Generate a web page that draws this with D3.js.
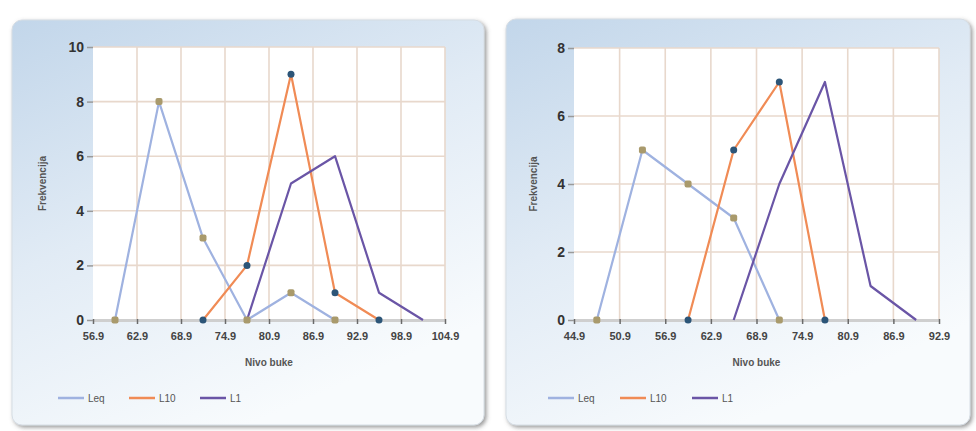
<!DOCTYPE html>
<html>
<head>
<meta charset="utf-8">
<script src="https://cdn.jsdelivr.net/npm/d3@7"></script>
<style>
  body { margin: 0; background: #fff; }
  text { font-family: "Liberation Sans", Arial, sans-serif; fill: #3a3a3a; }
</style>
</head>
<body>
<div id="chart"></div>
<script>
// series names (legend)
var seriesNames = ["Leq", "L10", "L1"];

// left chart: class midpoints, tick labels and frequencies
var leftTicks = [56.9, 62.9, 68.9, 74.9, 80.9, 86.9, 92.9, 98.9, 104.9];
var leftYTicks = [0, 2, 4, 6, 8, 10];
var leftLeqX = [59.9, 65.9, 71.9, 77.9, 83.9, 89.9];
var leftLeq  = [0, 8, 3, 0, 1, 0];
var leftL10X = [71.9, 77.9, 83.9, 89.9, 95.9];
var leftL10  = [0, 2, 9, 1, 0];
var leftL1X  = [77.9, 83.9, 89.9, 95.9, 101.9];
var leftL1   = [0, 5, 6, 1, 0];

// right chart
var rightTicks = [44.9, 50.9, 56.9, 62.9, 68.9, 74.9, 80.9, 86.9, 92.9];
var rightYTicks = [0, 2, 4, 6, 8];
var rightLeqX = [47.9, 53.9, 59.9, 65.9, 71.9];
var rightLeq  = [0, 5, 4, 3, 0];
var rightL10X = [59.9, 65.9, 71.9, 77.9];
var rightL10  = [0, 5, 7, 0];
var rightL1X  = [65.9, 71.9, 77.9, 83.9, 89.9];
var rightL1   = [0, 4, 7, 1, 0];

var colors = ["#9fb2e0", "#f08b55", "#6a55a6"];

var svg = d3.select("#chart").append("svg")
    .attr("width", 976)
    .attr("height", 431);

var defs = svg.append("defs");

// card background gradient (light blue -> white)
var grad = defs.append("linearGradient")
    .attr("id", "cardGrad")
    .attr("x1", "0%").attr("y1", "0%")
    .attr("x2", "50%").attr("y2", "100%");
grad.append("stop").attr("offset", "0%").attr("stop-color", "#c2d6ea");
grad.append("stop").attr("offset", "50%").attr("stop-color", "#e1ebf5");
grad.append("stop").attr("offset", "100%").attr("stop-color", "#f8fbfd");

var shadow = defs.append("filter").attr("id", "shadow")
    .attr("x", "-5%").attr("y", "-5%").attr("width", "115%").attr("height", "115%");
shadow.append("feDropShadow")
    .attr("dx", 2).attr("dy", 2)
    .attr("stdDeviation", 2)
    .attr("flood-color", "#606060")
    .attr("flood-opacity", 0.65);

function toPoints(xs, ys) {
  return xs.map(function(x, i) { return {x: x, y: ys[i]}; });
}

function drawPanel(cfg) {
  var g = svg.append("g");

  // card
  g.append("rect")
      .attr("x", cfg.card[0]).attr("y", cfg.card[1])
      .attr("width", cfg.card[2]).attr("height", cfg.card[3])
      .attr("rx", 10).attr("ry", 10)
      .style("fill", "url(#cardGrad)")
      .style("stroke", "#d6dde4")
      .style("stroke-width", 1)
      .attr("filter", "url(#shadow)");

  var x = d3.scaleLinear()
      .domain([cfg.ticks[0], cfg.ticks[cfg.ticks.length - 1]])
      .range([cfg.plot[0], cfg.plot[1]]);
  var y = d3.scaleLinear()
      .domain([0, d3.max(cfg.yTicks)])
      .range([cfg.plot[3], cfg.plot[2]]);

  // plot area
  g.append("rect")
      .attr("x", x.range()[0]).attr("y", y.range()[1])
      .attr("width", x.range()[1] - x.range()[0])
      .attr("height", y.range()[0] - y.range()[1])
      .style("fill", "#ffffff");

  // grid
  g.selectAll(".vgrid").data(cfg.ticks.slice(1))
    .enter().append("line")
      .attr("x1", function(d) { return x(d); })
      .attr("x2", function(d) { return x(d); })
      .attr("y1", y.range()[1]).attr("y2", y.range()[0])
      .style("stroke", "#e8d8cc").style("stroke-width", 1.6);
  g.selectAll(".hgrid").data(cfg.yTicks.slice(1))
    .enter().append("line")
      .attr("x1", x.range()[0]).attr("x2", x.range()[1])
      .attr("y1", function(d) { return y(d); })
      .attr("y2", function(d) { return y(d); })
      .style("stroke", "#e8d8cc").style("stroke-width", 1.6);

  // x axis
  var xAxis = d3.axisBottom(x)
      .tickValues(cfg.ticks)
      .tickSize(0)
      .tickPadding(12)
      .tickFormat(d3.format(".1f"));
  var xg = g.append("g")
      .attr("transform", "translate(0," + y(0) + ")")
      .call(xAxis);
  xg.select(".domain").style("stroke", "#cfcfcf").style("stroke-width", 3);
  xg.selectAll("text")
      .style("font-size", "11px").style("font-weight", "bold").style("fill", "#444");
  // small tick marks
  xg.selectAll(".tick").append("line")
      .attr("y1", -1).attr("y2", 4)
      .style("stroke", "#6a6a6a").style("stroke-width", 1.5);

  // y axis
  var yAxis = d3.axisLeft(y)
      .tickValues(cfg.yTicks)
      .tickSize(6)
      .tickPadding(3);
  var yg = g.append("g")
      .attr("transform", "translate(" + x.range()[0] + ",0)")
      .call(yAxis);
  yg.select(".domain").remove();
  yg.selectAll(".tick line").style("stroke", "#9a9a9a").style("stroke-width", 1.5);
  yg.selectAll("text")
      .style("font-size", "14px").style("font-weight", "bold").style("fill", "#333");

  // axis titles
  g.append("text")
      .attr("x", (x.range()[0] + x.range()[1]) / 2)
      .attr("y", y(0) + 46)
      .attr("text-anchor", "middle")
      .style("font-size", "10px").style("font-weight", "bold").style("fill", "#555")
      .text("Nivo buke");
  g.append("text")
      .attr("transform", "translate(" + cfg.yTitleX + "," + ((y.range()[0] + y.range()[1]) / 2) + ") rotate(-90)")
      .attr("text-anchor", "middle")
      .style("font-size", "10px").style("font-weight", "bold").style("fill", "#555")
      .text("Frekvencija");

  var line = d3.line()
      .x(function(d) { return x(d.x); })
      .y(function(d) { return y(d.y); });

  var leqPts = toPoints(cfg.leqX, cfg.leq);
  var l10Pts = toPoints(cfg.l10X, cfg.l10);
  var l1Pts = toPoints(cfg.l1X, cfg.l1);

  [leqPts, l10Pts, l1Pts].forEach(function(pts, i) {
    g.append("path")
        .attr("d", line(pts))
        .style("fill", "none")
        .style("stroke", colors[i])
        .style("stroke-width", 2.2)
        .style("stroke-linejoin", "round");
  });

  // markers: Leq tan squares, L10 dark blue dots
  g.selectAll(".mLeq").data(leqPts)
    .enter().append("rect")
      .attr("x", function(d) { return x(d.x) - 3.5; })
      .attr("y", function(d) { return y(d.y) - 3.5; })
      .attr("width", 7).attr("height", 7)
      .attr("rx", 2)
      .style("fill", "#a99a6c");
  g.selectAll(".mL10").data(l10Pts)
    .enter().append("circle")
      .attr("cx", function(d) { return x(d.x); })
      .attr("cy", function(d) { return y(d.y); })
      .attr("r", 3.5)
      .style("fill", "#2c5578");

  // legend
  var leg = g.selectAll(".leg").data(seriesNames)
    .enter().append("g")
      .attr("transform", function(d, i) { return "translate(" + cfg.legend[i] + "," + cfg.legendY + ")"; });
  leg.append("line")
      .attr("x1", 0).attr("x2", 26)
      .style("stroke", function(d, i) { return colors[i]; })
      .style("stroke-width", 2.5);
  leg.append("text")
      .attr("x", 30).attr("dy", "0.35em")
      .style("font-size", "10px").style("fill", "#555")
      .text(function(d) { return d; });
}

drawPanel({
  card: [12, 20, 472, 405],
  plot: [93, 445, 47, 320],
  ticks: leftTicks, yTicks: leftYTicks,
  leqX: leftLeqX, leq: leftLeq,
  l10X: leftL10X, l10: leftL10,
  l1X: leftL1X, l1: leftL1,
  yTitleX: 46,
  legend: [58, 129, 200], legendY: 398
});

drawPanel({
  card: [506, 19, 464, 406],
  plot: [574, 939, 48, 320],
  ticks: rightTicks, yTicks: rightYTicks,
  leqX: rightLeqX, leq: rightLeq,
  l10X: rightL10X, l10: rightL10,
  l1X: rightL1X, l1: rightL1,
  yTitleX: 537,
  legend: [548, 620, 692], legendY: 398
});
</script>
</body>
</html>
